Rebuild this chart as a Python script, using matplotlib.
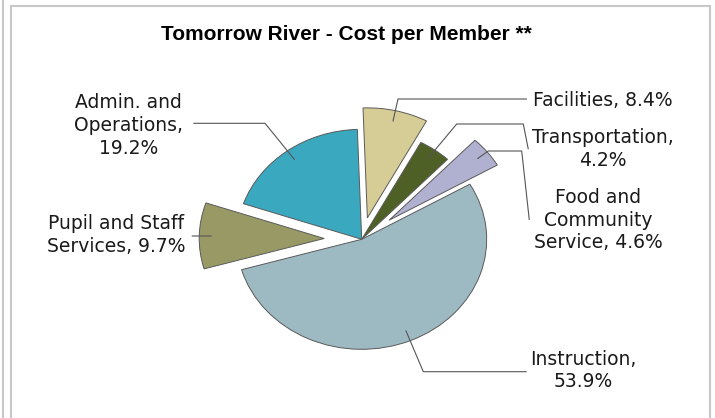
import matplotlib
matplotlib.use("Agg")
import matplotlib.pyplot as plt
import numpy as np
from matplotlib.lines import Line2D

# ---- data ----
categories = ["Facilities", "Transportation", "Food and Community Service",
              "Instruction", "Pupil and Staff Services", "Admin. and Operations"]
shares = [8.4, 4.2, 4.6, 53.9, 9.7, 19.2]
label_names = ["Facilities,", "Transportation,\n", "Food and\nCommunity\nService,",
               "Instruction,\n", "Pupil and Staff\nServices,", "Admin. and\nOperations,\n"]
title = "Tomorrow River - Cost per Member **"

# ---- style ----
colors = ["#D6CC96", "#4E6026", "#B0B0D0", "#9DB9C1", "#999966", "#3AA8BF"]
explode = [0.2, 0.0, 0.28, 0.0, 0.3, 0.0]

W, H = 715, 418
cx, cy, rx, ry = 361.7, 239.3, 125.0, 110.0

fig = plt.figure(figsize=(W / 100, H / 100), dpi=100)
fig.patch.set_facecolor("white")
ax = fig.add_axes([0, 0, 1, 1])

wedges, _ = ax.pie(shares, explode=explode, colors=colors, startangle=92,
                   counterclock=False, radius=1.0,
                   wedgeprops=dict(edgecolor="#5a5a5a", linewidth=0.7))
ax.set_aspect("auto")
ax.set_xlim(-cx / rx, (W - cx) / rx)
ax.set_ylim((cy - H) / ry, cy / ry)
ax.axis("off")


def p2d(px, py):
    return ((px - cx) / rx, (cy - py) / ry)


# leader elbows (pixel layout) and label centers (pixel layout)
elbows = [
    [(398, 99), (527, 99)],
    [(456.7, 124), (523.3, 124), (528.3, 149.3)],
    [(488.3, 151), (521.7, 151), (529.3, 220)],
    [(423.3, 371.7), (526.7, 371.7)],
    [(191.7, 236)],
    [(265, 123.3), (193.3, 123.3)],
]
label_pos = [(603, 100.7), (603, 149.3), (598, 220), (583.3, 370.5),
             (116, 235.3), (128.3, 125.3)]
step = 22.7

for w, name, val, elb, (lx, ly) in zip(wedges, label_names, shares, elbows, label_pos):
    th = np.deg2rad((w.theta1 + w.theta2) / 2)
    c = w.center
    ax_pt = (c[0] + 0.9 * np.cos(th), c[1] + 0.9 * np.sin(th))
    pts = [ax_pt] + [p2d(*e) for e in elb]
    xs, ys = zip(*pts)
    ax.plot(xs, ys, color="#555555", lw=0.8, solid_capstyle="butt")
    sep = "" if name.endswith("\n") else " "
    text = f"{name}{sep}{val:.1f}%"
    lines = text.split("\n")
    n = len(lines)
    for i, ln in enumerate(lines):
        yy = ly + (i - (n - 1) / 2) * step
        ax.text(*p2d(lx, yy), ln, ha="center", va="center", fontsize=13.5,
                family="DejaVu Sans", color="#1a1a1a")

fig.text(346.5 / W, 1 - 35 / H, title, ha="center", va="center",
         fontsize=15, fontweight="bold", family="Liberation Sans", color="black")

# frame lines
fc = "#c8c8c8"
def fl(x0, y0, x1, y1):
    fig.add_artist(Line2D([x0 / W, x1 / W], [1 - y0 / H, 1 - y1 / H],
                          transform=fig.transFigure, color=fc, lw=1.5))

fl(3, 0, 3, H)
fl(11, 6, 710, 6)
fl(11, 6, 11, H)
fl(710, 6, 710, H)

fig.savefig("out.png", dpi=100, facecolor="white")
